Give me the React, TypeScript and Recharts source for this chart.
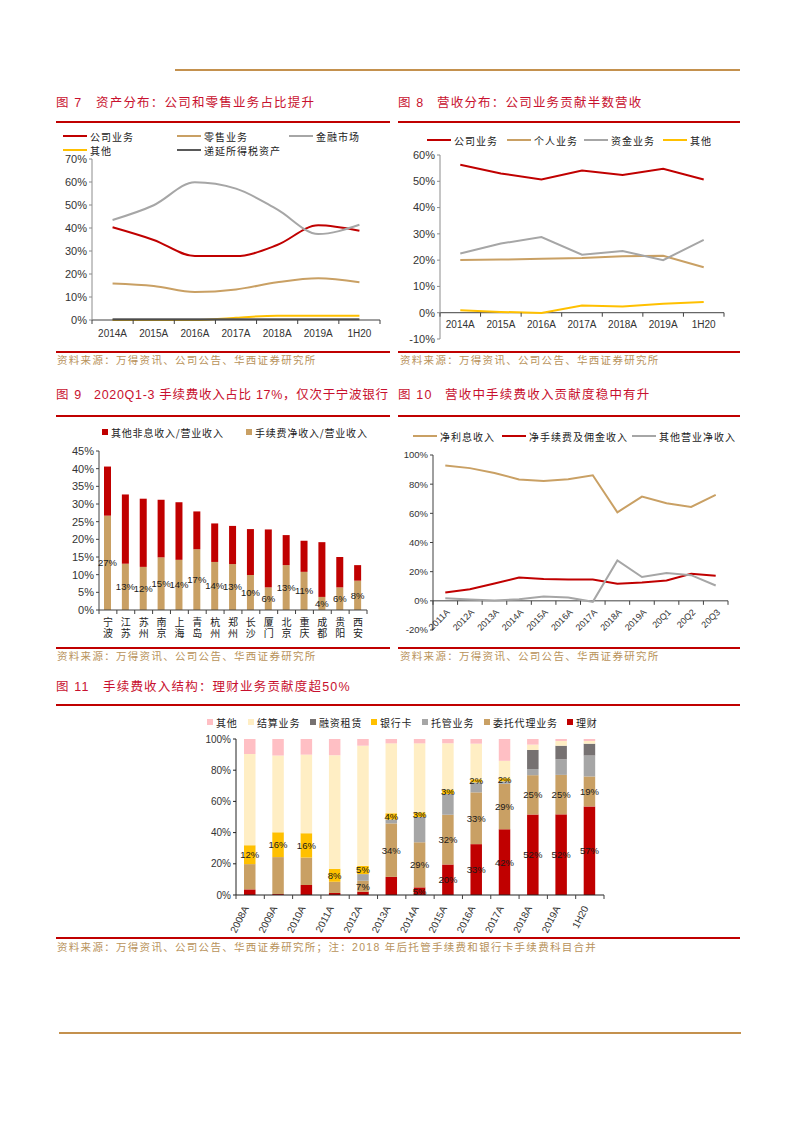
import React from 'react'
import { LineChart, Line, BarChart, Bar, XAxis, YAxis, ReferenceLine, LabelList } from 'recharts'

const RED = '#C00000'
const TAN = '#C9A064'
const GRAY = '#A6A6A6'
const YELLOW = '#FFC000'
const PINK = '#FFBFC4'
const CREAM = '#FFEEC4'
const TITLE_RED = '#C8102E'
const SOURCE = '#B8925A'
const GOLD = '#C4914E'
const AXIS = '#404040'

const CJK = '"Noto Sans CJK SC", "Noto Sans", sans-serif'
const NUM = '"Liberation Sans", Arial, sans-serif'
const MIXED = '"Liberation Sans", "Noto Sans CJK SC", sans-serif'

// 图7 资产分布 (%)
const years7 = ['2014A', '2015A', '2016A', '2017A', '2018A', '2019A', '1H20']
const corp7 = [40.3, 34.8, 27.8, 27.8, 32.6, 41.2, 38.8]
const retail7 = [15.9, 14.8, 12.2, 13.3, 16.4, 18.1, 16.4]
const market7 = [43.5, 49.9, 59.9, 57.1, 48.1, 37.4, 41.4]
const other7 = [0, 0, 0, 1.0, 1.9, 1.9, 1.9]
const deferred7 = [0.3, 0.3, 0.3, 0.3, 0.3, 0.3, 0.3]
const ticks7 = [0, 10, 20, 30, 40, 50, 60, 70]

// 图8 营收分布 (%)
const years8 = ['2014A', '2015A', '2016A', '2017A', '2018A', '2019A', '1H20']
const corp8 = [56.3, 53.0, 50.7, 54.1, 52.4, 54.8, 50.7]
const personal8 = [20.1, 20.2, 20.5, 20.8, 21.5, 21.7, 17.3]
const treasury8 = [22.5, 26.3, 28.8, 22.1, 23.5, 20.0, 27.7]
const other8 = [0.9, 0.3, -0.1, 2.7, 2.4, 3.4, 4.1]
const ticks8 = [-10, 0, 10, 20, 30, 40, 50, 60]

// 图9 2020Q1-3 非息收入占比 (%)
const banks9 = ['宁波', '江苏', '苏州', '南京', '上海', '青岛', '杭州', '郑州', '长沙', '厦门', '北京', '重庆', '成都', '贵阳', '西安']
const fee9 = [26.7, 13.1, 12.2, 14.9, 14.2, 17.2, 13.6, 13.0, 9.9, 6.4, 12.7, 10.8, 3.7, 6.4, 8.3]
const otherNonInt9 = [13.9, 19.6, 19.3, 16.3, 16.3, 10.7, 10.9, 10.8, 13.0, 16.4, 8.5, 8.8, 15.5, 8.6, 4.4]
const ticks9 = [0, 5, 10, 15, 20, 25, 30, 35, 40, 45]

// 图10 营收结构 (%)
const periods10 = ['2011A', '2012A', '2013A', '2014A', '2015A', '2016A', '2017A', '2018A', '2019A', '20Q1', '20Q2', '20Q3']
const nii10 = [92.8, 91.0, 87.7, 83.2, 82.2, 83.4, 86.1, 60.7, 71.5, 66.9, 64.4, 72.6]
const fee10 = [5.7, 8.0, 11.9, 16.0, 14.9, 14.7, 14.7, 11.7, 12.6, 14.0, 18.6, 17.2]
const otherInc10 = [1.8, 0.9, 0.2, 1.1, 3.0, 2.3, -0.7, 27.7, 16.3, 19.0, 17.6, 10.5]
const ticks10 = [-20, 0, 20, 40, 60, 80, 100]

// 图11 手续费收入结构 (%)
const years11 = ['2008A', '2009A', '2010A', '2011A', '2012A', '2013A', '2014A', '2015A', '2016A', '2017A', '2018A', '2019A', '1H20']
const wealth11 = [3.6, 0.6, 6.4, 1.3, 2.1, 11.6, 4.9, 19.6, 32.6, 42.1, 51.6, 51.7, 56.8]
const agency11 = [16.2, 23.7, 17.6, 7.2, 7.0, 34.3, 28.9, 31.9, 33.2, 29.2, 25.2, 25.3, 19.2]
const custody11 = [0, 0, 0, 0, 4.3, 2.5, 16.2, 13.2, 6.4, 1.6, 3.9, 10.0, 13.4]
const card11 = [12.1, 15.9, 15.6, 8.3, 5.3, 4.0, 3.0, 3.0, 2.0, 2.0, 0, 0, 0]
const leasing11 = [0, 0, 0, 0, 0, 0, 0, 0, 0, 0, 12.3, 8.7, 7.6]
const settle11 = [58.5, 49.2, 50.4, 72.8, 77.0, 44.8, 44.2, 29.5, 22.8, 11.1, 3.4, 3.0, 1.7]
const others11 = [9.6, 10.6, 10.0, 10.4, 4.3, 2.8, 2.8, 2.8, 3.0, 14.0, 3.6, 1.3, 1.3]
const ticks11 = [0, 10, 20, 30, 40, 50, 60, 70, 80, 90, 100]
// which bars carry a data label (first..last index)
const labelled11: Record<string, [number, number]> = {
  wealth: [6, 12],
  agency: [4, 12],
  custody: [10, 12],
  card: [0, 9],
}

type Series = { key: string; name: string; color: string; values: number[] }

const series7: Series[] = [
  { key: 'corp', name: '公司业务', color: RED, values: corp7 },
  { key: 'retail', name: '零售业务', color: TAN, values: retail7 },
  { key: 'market', name: '金融市场', color: GRAY, values: market7 },
  { key: 'other', name: '其他', color: YELLOW, values: other7 },
  { key: 'deferred', name: '递延所得税资产', color: '#595959', values: deferred7 },
]
const series8: Series[] = [
  { key: 'corp', name: '公司业务', color: RED, values: corp8 },
  { key: 'personal', name: '个人业务', color: TAN, values: personal8 },
  { key: 'treasury', name: '资金业务', color: GRAY, values: treasury8 },
  { key: 'other', name: '其他', color: YELLOW, values: other8 },
]
const series9: Series[] = [
  { key: 'fee', name: '手续费净收入/营业收入', color: TAN, values: fee9 },
  { key: 'otherNonInt', name: '其他非息收入/营业收入', color: RED, values: otherNonInt9 },
]
const series10: Series[] = [
  { key: 'nii', name: '净利息收入', color: TAN, values: nii10 },
  { key: 'fee', name: '净手续费及佣金收入', color: RED, values: fee10 },
  { key: 'otherInc', name: '其他营业净收入', color: GRAY, values: otherInc10 },
]
const series11: Series[] = [
  { key: 'wealth', name: '理财', color: RED, values: wealth11 },
  { key: 'agency', name: '委托代理业务', color: TAN, values: agency11 },
  { key: 'custody', name: '托管业务', color: GRAY, values: custody11 },
  { key: 'card', name: '银行卡', color: YELLOW, values: card11 },
  { key: 'leasing', name: '融资租赁', color: '#767171', values: leasing11 },
  { key: 'settle', name: '结算业务', color: CREAM, values: settle11 },
  { key: 'others', name: '其他', color: PINK, values: others11 },
]

const rows = (cats: string[], series: Series[]) =>
  cats.map((name, i) => {
    const r: Record<string, any> = { name }
    series.forEach((s) => (r[s.key] = s.values[i]))
    return r
  })

const pct = (v: any) => `${v}%`

type TickOpts = {
  axisY: number
  bw: number
  n: number
  kind: 'flat' | 'rot' | 'stack'
  size: number
  dx?: number
  dy?: number
  angle?: number
  marks?: boolean
}

function catTick(o: TickOpts) {
  return (p: any) => {
    const { x, index, payload } = p
    const v = String(payload.value)
    const half = o.bw / 2
    const marks = o.marks ? (
      <g stroke={AXIS} strokeWidth={1}>
        <line x1={x - half} x2={x - half} y1={o.axisY} y2={o.axisY + 4} />
        {index === o.n - 1 && <line x1={x + half} x2={x + half} y1={o.axisY} y2={o.axisY + 4} />}
      </g>
    ) : null
    let label: React.ReactNode = null
    if (o.kind === 'flat') {
      label = (
        <text x={x} y={o.axisY + (o.dy ?? 15)} textAnchor="middle" fontSize={o.size} fontFamily={NUM} fill="#333">
          {v}
        </text>
      )
    } else if (o.kind === 'rot') {
      const tx = x + (o.dx ?? 0)
      const ty = o.axisY + (o.dy ?? 12)
      label = (
        <text x={tx} y={ty} textAnchor="end" fontSize={o.size} fontFamily={NUM} fill="#333" transform={`rotate(${o.angle} ${tx} ${ty})`}>
          {v}
        </text>
      )
    } else {
      // vertical city names, written top to bottom
      label = (
        <text x={x} y={o.axisY + (o.dy ?? 7)} fontSize={o.size} fontFamily={CJK} fill="#222"
          letterSpacing={1} style={{ writingMode: 'vertical-rl' }}>
          {v}
        </text>
      )
    }
    return (
      <g>
        {marks}
        {label}
      </g>
    )
  }
}

const abs = (left: number, top: number, extra: React.CSSProperties = {}): React.CSSProperties => ({
  position: 'absolute',
  left,
  top,
  ...extra,
})

function Rule({ x, y, w, color = RED, h = 2 }: { x: number; y: number; w: number; color?: string; h?: number }) {
  return <div style={abs(x, y - h / 2, { width: w, height: h, background: color })} />
}

function Title({ x, y, tag, textX, text, ls = 1.2 }: { x: number; y: number; tag: string; textX: number; text: string; ls?: number }) {
  const st: React.CSSProperties = { fontSize: 12.5, color: TITLE_RED, whiteSpace: 'nowrap', lineHeight: '16px', letterSpacing: ls, fontFamily: MIXED }
  return (
    <>
      <div style={abs(x, y - 8, { ...st, letterSpacing: 1.2 })}>{tag}</div>
      <div style={abs(textX, y - 8, st)}>{text}</div>
    </>
  )
}

function Source({ x, y, text }: { x: number; y: number; text: string }) {
  return (
    <div style={abs(x, y - 7, { fontSize: 10.5, color: SOURCE, whiteSpace: 'nowrap', lineHeight: '14px', letterSpacing: 1.3, fontFamily: MIXED })}>
      {text}
    </div>
  )
}

function LineKey({ x, y, color, label }: { x: number; y: number; color: string; label: string }) {
  return (
    <div style={abs(x, y - 8, { height: 16, display: 'flex', alignItems: 'center', whiteSpace: 'nowrap', fontSize: 10, letterSpacing: 1, color: '#222' })}>
      <span style={{ display: 'inline-block', width: 24, height: 2, background: color, marginRight: 3 }} />
      {label}
    </div>
  )
}

function BoxKey({ x, y, color, label }: { x: number; y: number; color: string; label: string }) {
  return (
    <div style={abs(x, y - 8, { height: 16, display: 'flex', alignItems: 'center', whiteSpace: 'nowrap', fontSize: 10, letterSpacing: 0.8, color: '#222' })}>
      <span style={{ display: 'inline-block', width: 6, height: 6, background: color, marginRight: 3 }} />
      {label}
    </div>
  )
}

const SRC = '资料来源：万得资讯、公司公告、华西证券研究所'

function Chart7() {
  const data = rows(years7, series7)
  const legendPos = [[63, 136], [177, 136], [289, 136], [63, 150], [177, 150]]
  const bw = 288 / 7
  return (
    <>
      {series7.map((s, i) => (
        <LineKey key={s.key} x={legendPos[i][0]} y={legendPos[i][1]} color={s.color} label={s.name} />
      ))}
      <div style={abs(50, 150)}>
        <LineChart width={340} height={190} data={data} margin={{ top: 9, right: 10, left: 0, bottom: 0 }}>
          <XAxis dataKey="name" height={20} interval={0} padding={{ left: bw / 2, right: bw / 2 }} axisLine={{ stroke: AXIS }} tickLine={false}
            tick={catTick({ axisY: 170, bw, n: 7, kind: 'flat', size: 10, dy: 16.5, marks: true })} />
          <YAxis width={42} domain={[0, 70]} ticks={ticks7} tickFormatter={pct} axisLine={{ stroke: '#8C8C8C' }}
            tickLine={{ stroke: '#8C8C8C' }} tickSize={3} tick={{ fontSize: 11, fill: '#333', fontFamily: NUM }} />
          {series7.map((s) => (
            <Line key={s.key} dataKey={s.key} type="monotone" stroke={s.color} strokeWidth={2} dot={false} activeDot={false} isAnimationActive={false} />
          ))}
        </LineChart>
      </div>
    </>
  )
}

function Chart8() {
  const data = rows(years8, series8)
  const legendX = [427, 507, 584, 663]
  const zeroY = 10 + (184 * 60) / 70
  const bw = 284 / 7
  return (
    <>
      {series8.map((s, i) => (
        <LineKey key={s.key} x={legendX[i]} y={140} color={s.color} label={s.name} />
      ))}
      <div style={abs(395, 145)}>
        <LineChart width={340} height={204} data={data} margin={{ top: 10, right: 11, left: 0, bottom: 0 }}>
          <XAxis dataKey="name" height={10} interval={0} padding={{ left: bw / 2, right: bw / 2 }} axisLine={false} tickLine={false}
            tick={catTick({ axisY: zeroY, bw, n: 7, kind: 'flat', size: 10, dy: 15, marks: true })} />
          <YAxis width={45} domain={[-10, 60]} ticks={ticks8} tickFormatter={pct} axisLine={{ stroke: '#8C8C8C' }}
            tickLine={{ stroke: '#8C8C8C' }} tickSize={3} tick={{ fontSize: 11, fill: '#333', fontFamily: NUM }} />
          <ReferenceLine y={0} stroke={AXIS} strokeWidth={1} />
          {series8.map((s) => (
            <Line key={s.key} dataKey={s.key} type="linear" stroke={s.color} strokeWidth={2} dot={false} activeDot={false} isAnimationActive={false} />
          ))}
        </LineChart>
      </div>
    </>
  )
}

function Chart9() {
  const data = rows(banks9, series9)
  return (
    <>
      <BoxKey x={102} y={432} color={RED} label={series9[1].name} />
      <BoxKey x={246} y={432} color={TAN} label={series9[0].name} />
      <div style={abs(50, 440)}>
        <BarChart width={330} height={205} data={data} barSize={7} margin={{ top: 11, right: 13, left: 0, bottom: 0 }}>
          <XAxis dataKey="name" height={35} interval={0} axisLine={{ stroke: AXIS }} tickLine={false}
            tick={catTick({ axisY: 170, bw: 268 / 15, n: 15, kind: 'stack', size: 10, dy: 7, marks: true })} />
          <YAxis width={49} domain={[0, 45]} ticks={ticks9} tickFormatter={pct} axisLine={{ stroke: AXIS }}
            tickLine={{ stroke: AXIS }} tickSize={3} tick={{ fontSize: 11, fill: '#333', fontFamily: NUM }} />
          <Bar dataKey="fee" stackId="a" fill={TAN} isAnimationActive={false}>
            <LabelList dataKey="fee" position="center" formatter={(v: any) => `${Math.round(v)}%`}
              fill="#1a1a1a" fontSize={9.5} fontFamily={NUM} />
          </Bar>
          <Bar dataKey="otherNonInt" stackId="a" fill={RED} isAnimationActive={false} />
        </BarChart>
      </div>
    </>
  )
}

function Chart10() {
  const data = rows(periods10, series10)
  const legendX = [413, 502, 632]
  const zeroY = 10 + (175 * 100) / 120
  const bw = 295 / 12
  return (
    <>
      {series10.map((s, i) => (
        <LineKey key={s.key} x={legendX[i]} y={436} color={s.color} label={s.name} />
      ))}
      <div style={abs(395, 445)}>
        <LineChart width={340} height={195} data={data} margin={{ top: 10, right: 7, left: 0, bottom: 0 }}>
          <XAxis dataKey="name" height={10} interval={0} padding={{ left: bw / 2, right: bw / 2 }} axisLine={false} tickLine={false}
            tick={catTick({ axisY: zeroY, bw, n: 12, kind: 'rot', angle: -45, size: 9, dx: 5, dy: 12, marks: true })} />
          <YAxis width={38} domain={[-20, 100]} ticks={ticks10} tickFormatter={pct} axisLine={{ stroke: AXIS }}
            tickLine={{ stroke: AXIS }} tickSize={3} tick={{ fontSize: 9.5, fill: '#333', fontFamily: NUM }} />
          <ReferenceLine y={0} stroke={AXIS} strokeWidth={1} />
          {series10.map((s) => (
            <Line key={s.key} dataKey={s.key} type="linear" stroke={s.color} strokeWidth={2} dot={false} activeDot={false} isAnimationActive={false} />
          ))}
        </LineChart>
      </div>
    </>
  )
}

function segLabel(key: string) {
  const [from, to] = labelled11[key]
  return (p: any) => {
    const { x, y, width, height, value, index } = p
    if (index < from || index > to || !value) return null
    return (
      <text x={x + width / 2} y={y + height / 2 + 3.5} textAnchor="middle" fontSize={9.5} fontFamily={NUM} fill="#1a1a1a">
        {Math.round(value)}%
      </text>
    )
  }
}

function Chart11() {
  const data = rows(years11, series11)
  const legendOrder = [...series11].reverse()
  const legendX = [207, 248, 310, 371, 422, 484, 567]
  return (
    <>
      {legendOrder.map((s, i) => (
        <BoxKey key={s.key} x={legendX[i]} y={722} color={s.color} label={s.name} />
      ))}
      <div style={abs(190, 730)}>
        <BarChart width={420} height={215} data={data} barSize={11.5} margin={{ top: 9, right: 6, left: 0, bottom: 0 }}>
          <XAxis dataKey="name" height={50} interval={0} axisLine={{ stroke: '#222' }} tickLine={false}
            tick={catTick({ axisY: 165, bw: 368 / 13, n: 13, kind: 'rot', angle: -63, size: 10, dx: -1, dy: 13, marks: true })} />
          <YAxis width={46} domain={[0, 100]} ticks={ticks11} tickFormatter={pct} axisLine={{ stroke: '#222' }}
            tickLine={{ stroke: '#222' }} tickSize={3} tick={{ fontSize: 10, fill: '#333', fontFamily: NUM }} />
          {series11.map((s) => (
            <Bar key={s.key} dataKey={s.key} stackId="a" fill={s.color} isAnimationActive={false}>
              {labelled11[s.key] && <LabelList dataKey={s.key} content={segLabel(s.key)} />}
            </Bar>
          ))}
        </BarChart>
      </div>
    </>
  )
}

export default function App() {
  return (
    <div style={{ position: 'absolute', left: 0, top: 0, width: 793, height: 1122, background: '#fff', fontFamily: CJK, overflow: 'hidden' }}>
      <Rule x={175} y={70} w={565} color={GOLD} h={2.5} />

      <Title x={56} y={103} tag="图 7" textX={96} text="资产分布：公司和零售业务占比提升" />
      <Rule x={56} y={122} w={334} />
      <Chart7 />
      <Rule x={56} y={352} w={334} />
      <Source x={57} y={360} text={SRC} />

      <Title x={398} y={103} tag="图 8" textX={437} text="营收分布：公司业务贡献半数营收" />
      <Rule x={398} y={122} w={342} />
      <Chart8 />
      <Rule x={398} y={352} w={342} />
      <Source x={400} y={360} text={SRC} />

      <Title x={56} y={395} tag="图 9" textX={94} ls={0.7} text="2020Q1-3 手续费收入占比 17%，仅次于宁波银行" />
      <Rule x={56} y={416} w={334} />
      <Chart9 />
      <Rule x={56} y={648} w={334} />
      <Source x={57} y={656} text={SRC} />

      <Title x={398} y={395} tag="图 10" textX={445} text="营收中手续费收入贡献度稳中有升" />
      <Rule x={398} y={416} w={342} />
      <Chart10 />
      <Rule x={398} y={648} w={342} />
      <Source x={400} y={656} text={SRC} />

      <Title x={56} y={687} tag="图 11" textX={103} text="手续费收入结构：理财业务贡献度超50%" />
      <Rule x={56} y={705} w={684} />
      <Chart11 />
      <Rule x={56} y={938} w={684} />
      <Source x={57} y={946.5} text={SRC + '；注：2018 年后托管手续费和银行卡手续费科目合并'} />

      <Rule x={59} y={1033} w={682} color={GOLD} h={2.5} />
    </div>
  )
}
